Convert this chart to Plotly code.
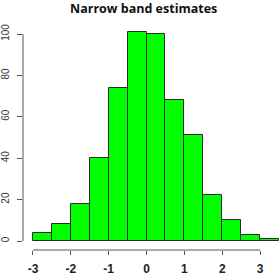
import plotly.graph_objects as go

bin_starts = [-3.0, -2.5, -2.0, -1.5, -1.0, -0.5, 0.0, 0.5, 1.0, 1.5, 2.0, 2.5, 3.0]
bin_width = 0.5
counts = [4, 8, 18, 40, 74, 101, 100, 68, 51, 22, 10, 3, 1]
x_ticks = [-3, -2, -1, 0, 1, 2, 3]
y_ticks = [0, 20, 40, 60, 80, 100]
title = "Narrow band estimates"

centers = [s + bin_width / 2 for s in bin_starts]

fig = go.Figure()
fig.add_trace(go.Bar(
    x=centers, y=counts, width=[bin_width] * len(counts),
    marker=dict(color="#00FF00", line=dict(color="#2a2a2a", width=1)),
    showlegend=False, hoverinfo="x+y",
))

axis_col = "#555555"
# R-style axis lines spanning only the tick range
fig.add_shape(type="line", xref="x", yref="paper", x0=x_ticks[0], x1=x_ticks[-1],
              y0=0, y1=0, line=dict(color=axis_col, width=1))
fig.add_shape(type="line", xref="paper", yref="y", x0=0, x1=0,
              y0=y_ticks[0], y1=y_ticks[-1], line=dict(color=axis_col, width=1))

fig.update_layout(
    width=279, height=275,
    margin=dict(l=23, r=0, t=24, b=25),
    paper_bgcolor="white", plot_bgcolor="white",
    title=dict(text="<b>" + title + "</b>", x=0.515, xanchor="center",
               yref="container", y=0.97, yanchor="middle",
               font=dict(family="Open Sans", size=12.5, color="#111111")),
    bargap=0,
    xaxis=dict(range=[-3.264, 3.5], tickvals=x_ticks, ticktext=[str(v) for v in x_ticks],
               showgrid=False, zeroline=False, showline=False,
               ticks="outside", ticklen=4, tickcolor=axis_col, tickwidth=1,
               ticklabelstandoff=4,
               tickfont=dict(family="Liberation Sans", size=12, color="#222222", weight="bold")),
    yaxis=dict(range=[-4.35, 104.83], tickvals=y_ticks, ticktext=[str(v) for v in y_ticks],
               showgrid=False, zeroline=False, showline=False,
               ticks="outside", ticklen=5, tickcolor=axis_col, tickwidth=1,
               tickangle=-90, ticklabelstandoff=4,
               tickfont=dict(family="Liberation Sans", size=10, color="#333333")),
)

fig.write_html("out.html", config={"displayModeBar": False},
               post_script="document.body.style.margin='0';")
